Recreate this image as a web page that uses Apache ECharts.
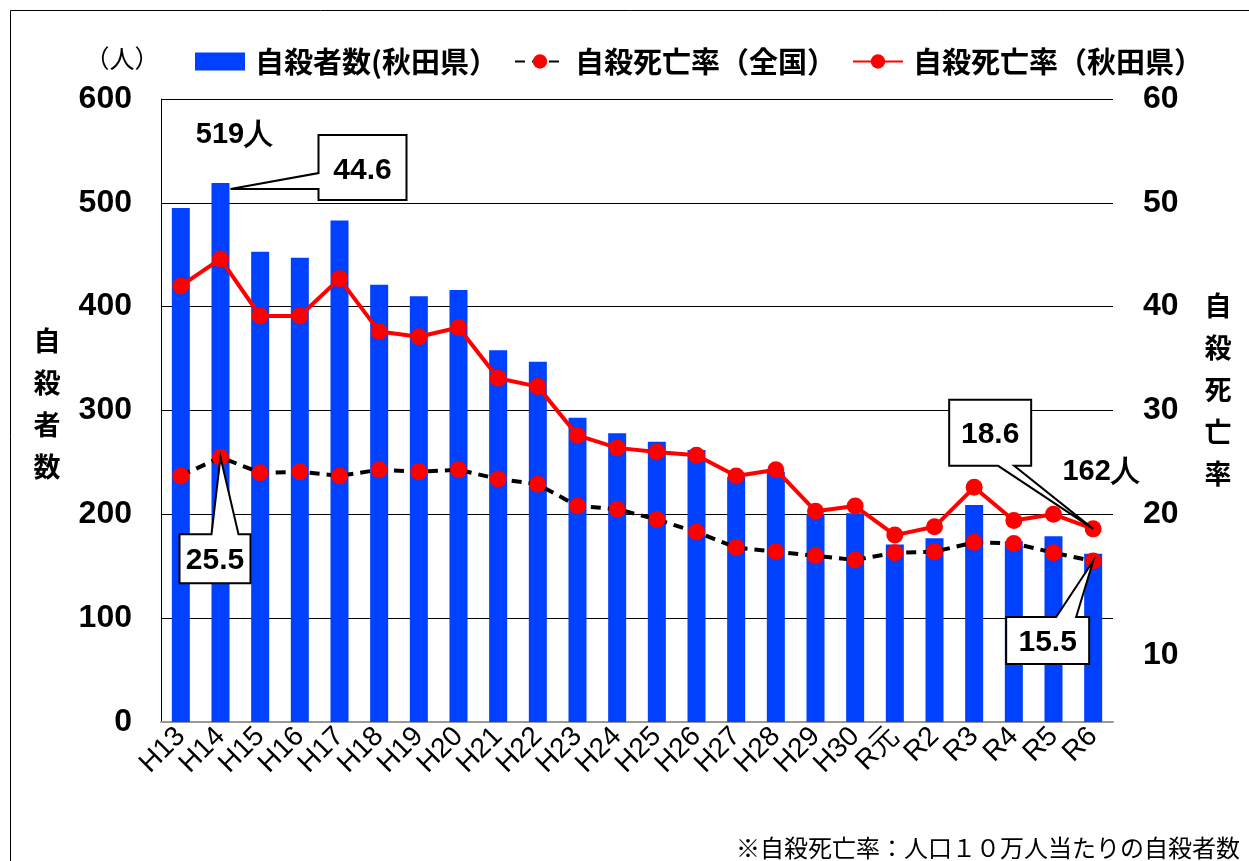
<!DOCTYPE html>
<html>
<head>
<meta charset="utf-8">
<script src="https://cdn.jsdelivr.net/npm/echarts@6/dist/echarts.min.js"></script>
<style>html,body{margin:0;padding:0;background:#fff;}#c{width:1249px;height:861px;}</style>
</head>
<body>
<div id="c"></div>
<script>
// ---- data ----
const categories = ['H13','H14','H15','H16','H17','H18','H19','H20','H21','H22','H23','H24','H25','H26','H27','H28','H29','H30','R元','R2','R3','R4','R5','R6'];
const suicidesAkita = [495,519,453,447,483,421,410,416,358,347,293,278,270,262,236,241,200,201,171,177,209,174,179,162];
const rateNational = [23.7,25.5,24.0,24.1,23.7,24.3,24.1,24.3,23.4,22.9,20.8,20.5,19.5,18.3,16.8,16.4,16.0,15.6,16.3,16.4,17.3,17.2,16.3,15.5];
const rateAkita = [42.0,44.6,39.1,39.1,42.7,37.6,37.1,38.0,33.1,32.3,27.6,26.4,26.0,25.7,23.7,24.3,20.3,20.8,18.0,18.8,22.6,19.4,20.0,18.6];
const leftAxisRange = [0, 600, 100];
const rightAxisRange = [0, 60, 10];
const seriesNames = ['自殺者数(秋田県）', '自殺死亡率（全国）', '自殺死亡率（秋田県）'];

const NUM = '"Liberation Sans", Arial, sans-serif';
const CJK = '"Noto Sans CJK JP", "Noto Sans", sans-serif';

const chart = echarts.init(document.getElementById('c'), null, {renderer: 'canvas'});
const gridL = 161, gridR = 136, gridT = 99, gridB = 139;

const option = {
  animation: false,
  backgroundColor: '#fff',
  legend: {
    left: 190, top: 42, width: 1200, orient: 'horizontal',
    itemWidth: 50, itemHeight: 18, itemGap: 16,
    textStyle: {fontFamily: CJK, fontWeight: 'bold', fontSize: 29, color: '#000', padding: [0, 0, 0, 5]},
    data: [
      {name: seriesNames[0], icon: 'rect'},
      {name: seriesNames[1]},
      {name: seriesNames[2]}
    ]
  },
  grid: {left: gridL, right: gridR, top: gridT, bottom: gridB, containLabel: false, outerBoundsMode: 'none'},
  xAxis: {
    type: 'category',
    data: categories,
    axisLine: {show: true, lineStyle: {color: '#999', width: 2}},
    axisTick: {show: false},
    axisLabel: {interval: 0, rotate: 45, margin: 10, fontSize: 28, fontFamily: NUM, color: '#000'}
  },
  yAxis: [
    {
      type: 'value', min: leftAxisRange[0], max: leftAxisRange[1], interval: leftAxisRange[2],
      axisLine: {show: true, lineStyle: {color: '#000', width: 1}},
      axisTick: {show: false},
      axisLabel: {margin: 29, fontSize: 32, fontWeight: 'bold', fontFamily: NUM, color: '#000'},
      splitLine: {show: true, lineStyle: {color: '#000', width: 1}}
    },
    {
      type: 'value', min: rightAxisRange[0], max: rightAxisRange[1], interval: rightAxisRange[2],
      position: 'right',
      axisLine: {show: false}, axisTick: {show: false},
      axisLabel: {margin: 30, fontSize: 32, fontWeight: 'bold', fontFamily: NUM, color: '#000',
        formatter: v => (v === 0 || v === 10) ? '' : String(v)},
      splitLine: {show: false}
    }
  ],
  series: [
    {
      name: seriesNames[0], type: 'bar', yAxisIndex: 0,
      data: suicidesAkita, barWidth: 18,
      itemStyle: {color: '#0040ff'}, z: 1
    },
    {
      name: seriesNames[1], type: 'line', yAxisIndex: 1,
      data: rateNational,
      symbol: 'circle', symbolSize: 17,
      lineStyle: {color: '#000', width: 4, type: [10, 7]},
      itemStyle: {color: '#ff0000'}, z: 3
    },
    {
      name: seriesNames[2], type: 'line', yAxisIndex: 1,
      data: rateAkita,
      symbol: 'circle', symbolSize: 17,
      lineStyle: {color: '#ff0000', width: 4},
      itemStyle: {color: '#ff0000'}, z: 4
    }
  ]
};
chart.setOption(option);

// ---- annotations positioned through the chart's own scales ----
const P = (s, i, v) => chart.convertToPixel({seriesIndex: s}, [i, v]);
const last = categories.length - 1;
const g = [];
const boxStyle = {fill: '#fff', stroke: '#000', lineWidth: 2};
const numFont = 'bold 30px ' + NUM;
function txt(x, y, text, font, align) {
  g.push({type: 'text', z: 120, style: {x: x, y: y, text: text, font: font, fill: '#000',
    textAlign: align || 'center', textVerticalAlign: 'middle'}});
}
function poly(pts) { g.push({type: 'polygon', z: 110, shape: {points: pts}, style: boxStyle}); }

// 44.6 callout pointing to H14 bar top
const a = P(0, 1, suicidesAkita[1]);
(function(){
  const x0 = a[0] + 98, x1 = a[0] + 186, y0 = a[1] - 48, y1 = a[1] + 17;
  poly([[x0,y0],[x1,y0],[x1,y1],[x0,y1],[x0,a[1]+6],[a[0]+10,a[1]+6],[x0,a[1]-10]]);
  txt((x0+x1)/2, (y0+y1)/2 + 3, String(rateAkita[1]), numFont);
})();
txt(a[0] + 14, a[1] - 48, suicidesAkita[1] + '人', 'bold 29px ' + NUM);

// 25.5 callout (national, H14)
const b = P(1, 1, rateNational[1]);
(function(){
  const x0 = b[0] - 41, x1 = b[0] + 30, y0 = b[1] + 77, y1 = b[1] + 126;
  poly([[x0,y0],[b[0]-9,y0],[b[0],b[1]],[b[0]+18,y0],[x1,y0],[x1,y1],[x0,y1]]);
  txt((x0+x1)/2, (y0+y1)/2 + 2, rateNational[1].toFixed(1), numFont);
})();

// 18.6 callout (Akita, R6)
const c = P(2, last, rateAkita[last]);
(function(){
  const x0 = c[0] - 144, x1 = c[0] - 62, y0 = c[1] - 129, y1 = c[1] - 63;
  poly([[x0,y0],[x1,y0],[x1,y1],[c[0]-79,y1],[c[0],c[1]],[c[0]-95,y1],[x0,y1]]);
  txt((x0+x1)/2, (y0+y1)/2 + 2, rateAkita[last].toFixed(1), numFont);
})();

// 15.5 callout (national, R6)
const d = P(1, last, rateNational[last]);
(function(){
  const x0 = d[0] - 87, x1 = d[0] - 4, y0 = d[1] + 56, y1 = d[1] + 103;
  poly([[x0,y0],[d[0]-37,y0],[d[0],d[1]],[d[0]-17,y0],[x1,y0],[x1,y1],[x0,y1]]);
  txt((x0+x1)/2, (y0+y1)/2 + 2, rateNational[last].toFixed(1), numFont);
})();

// 162人
const e = P(0, last, suicidesAkita[last]);
txt(e[0] + 8, e[1] - 82, suicidesAkita[last] + '人', 'bold 29px ' + NUM);

// right-axis "10" label sits below its gridline in the original
const r10 = P(2, 0, 10);
txt(1249 - gridR + 30, r10[1] + 37, '10', 'bold 32px ' + NUM, 'left');

// axis titles, unit, footnote, frame
g.push({type: 'text', z: 120, style: {x: 122, y: 58, text: '（人）', font: '25px ' + CJK, fill: '#000', textAlign: 'center', textVerticalAlign: 'middle'}});
g.push({type: 'text', z: 120, style: {x: 47, y: 404, text: '自\n殺\n者\n数', font: 'bold 27px ' + CJK, lineHeight: 42, fill: '#000', textAlign: 'center', textVerticalAlign: 'middle'}});
g.push({type: 'text', z: 120, style: {x: 1218, y: 390, text: '自\n殺\n死\n亡\n率', font: 'bold 27px ' + CJK, lineHeight: 42, fill: '#000', textAlign: 'center', textVerticalAlign: 'middle'}});
g.push({type: 'text', z: 120, style: {x: 1240, y: 848, text: '※自殺死亡率：人口１０万人当たりの自殺者数', font: '24px ' + CJK, fill: '#000', textAlign: 'right', textVerticalAlign: 'middle'}});
g.push({type: 'rect', z: 100, shape: {x: 10.5, y: 10.5, width: 1245, height: 900}, style: {fill: 'none', stroke: '#000', lineWidth: 1}});

chart.setOption({graphic: g});
</script>
</body>
</html>
